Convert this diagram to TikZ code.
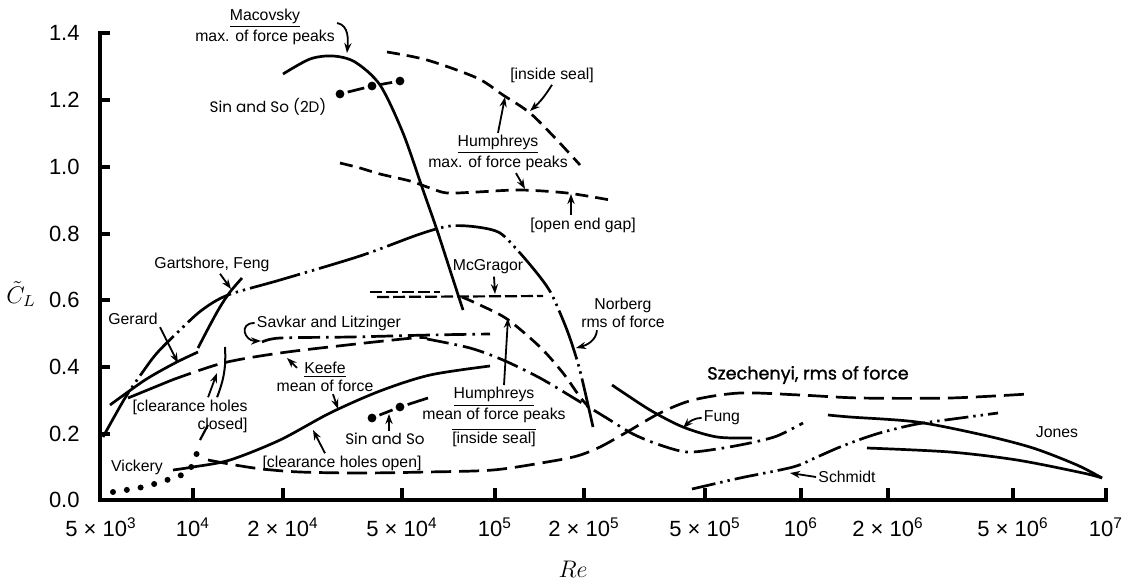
\documentclass[tikz,border=0pt]{standalone}
\usepackage{fontspec}
\setmainfont{Liberation Sans}
\newfontfamily\geofont{Poppins}
\newfontfamily\geobold[FakeBold=1.3]{Poppins}
\usetikzlibrary{arrows.meta}
\tikzset{>={Stealth[length=5pt,width=3.6pt]}}

\begin{document}
\begin{tikzpicture}[x=0.5pt, y=-0.5pt,
            axis/.style={line width=2.3pt},
            curve/.style={line width=1.35pt},
            dashc/.style={curve, dash pattern=on 6.5pt off 3.5pt},
            longdash/.style={curve, dash pattern=on 10pt off 4pt},
            mcgdash/.style={curve, line width=1.1pt, dash pattern=on 6pt off 2pt},
            dashdot/.style={curve, dash pattern=on 11pt off 3pt on 1.3pt off 3pt},
            dashdotdot/.style={curve, dash pattern=on 26pt off 2.5pt on 1.2pt off 2.5pt on 1.2pt off 2.5pt},
            schdash/.style={curve, dash pattern=on 12pt off 2.5pt on 1.2pt off 2.5pt on 1.2pt off 2.5pt},
            dots/.style={line width=3pt, line cap=round, dash pattern=on 0pt off 7pt},
            arr/.style={line width=0.9pt, ->},
            lbl/.style={font=\fontsize{7.9}{9}\selectfont, align=center, inner sep=1pt},
            geo/.style={font=\geofont\fontsize{7.6}{9}\selectfont, inner sep=1pt},
            ticklbl/.style={font=\fontsize{11}{13}\selectfont, inner sep=1pt}]
            \useasboundingbox (0,0) rectangle (1131,579);
            %% Axes
            \draw[axis] (110,33) -- (100,33) -- (100,500) -- (1106,500) -- (1106,488);
            \foreach \y in {100,167,234,300,367,434} \draw[axis] (100,\y) -- (110,\y);
            \foreach \x in {193,283,402,495,584,705,801,888,1013} \draw[axis] (\x,500) -- (\x,488);
            \foreach \y/\v [count=\i] in {33/1.4,100/1.2,167/1.0,234/0.8,300/0.6,367/0.4,434/0.2,500/0.0}
                \node[ticklbl, anchor=east] (ytick\i) at (82,\y) {\v};
            \foreach \x/\t [count=\i] in {101/5 × 10\textsuperscript{3},193/10\textsuperscript{4},283/2 × 10\textsuperscript{4},
                402/5 × 10\textsuperscript{4},495/10\textsuperscript{5},584/2 × 10\textsuperscript{5},705/5 × 10\textsuperscript{5},
                801/10\textsuperscript{6},888/2 × 10\textsuperscript{6},1013/5 × 10\textsuperscript{6},1106/10\textsuperscript{7}}
                \node[ticklbl] (xtick\i) at (\x,527) {\t};
            \node[font=\fontsize{12}{14}\selectfont, inner sep=0pt] (clLbl) at (21,294) {$\tilde{C}_L$};
            \node[font=\fontsize{12.5}{15}\selectfont] (reLbl) at (573,569) {$Re$};
            %% Curves, upper group
            \draw[curve] plot[smooth] coordinates {(283,74) (310,59) (333,56) (355,62) (380,85) (403,133) (423,190) (437,230) (450,270) (463,310)};
            \draw[dashc] plot[smooth] coordinates {(387,52) (427,60) (477,78) (503,95) (530,113) (557,140) (580,165)};
            \draw[dashc] plot[smooth] coordinates {(340,163) (360,168) (380,174) (410,181) (430,188) (447,193) (477,192) (520,190) (567,193) (610,200)};
            \draw[curve, shorten <=4pt, shorten >=4pt] (340,94) -- (372,86);
            \draw[curve, shorten <=4pt, shorten >=4pt] (372,86) -- (400,81);
            \foreach \p in {(340,94),(372,86),(400,81)} \fill \p circle (2.2pt);
            %% Curves, middle group
            \draw[dashdotdot] plot[smooth] coordinates {(103,437) (125,398) (142,373) (157,353) (180,330) (202,310) (228,295) (280,280) (360,256) (420,234) (450,226) (477,227) (500,233) (520,253) (540,277) (552,295) (567,330) (577,360) (583,383) (593,427)};
            \draw[curve] plot[smooth] coordinates {(110,405) (145,380) (175,363) (198,352)};
            \draw[curve] plot[smooth] coordinates {(198,348) (210,325) (220,307) (230,292) (242,278)};
            \draw[mcgdash] (370,292) -- (440,292);
            \draw[mcgdash] (377,297) -- (543,296);
            \draw[dashc] plot[smooth] coordinates {(462,297) (480,305) (507,319) (540,347) (563,373) (580,397) (588,406)};
            \draw[dashdot] plot[smooth] coordinates {(262,342) (280,338) (350,337) (430,335) (490,334)};
            \draw[curve] (128,398) -- (172,380);
            \draw[longdash] plot[smooth] coordinates {(172,380) (223,363) (280,353) (347,345) (413,338) (427,338)};
            \draw[dashdot] plot[smooth] coordinates {(427,339) (470,348) (503,360) (540,378) (577,400) (605,417) (633,434) (660,445) (687,452) (717,449) (750,443) (777,436) (803,423)};
            %% Curves, lower group
            \draw[curve] plot[smooth] coordinates {(173,470) (193,467) (230,460) (280,440) (330,413) (380,391) (430,375) (490,366)};
            \draw[dots] plot[smooth] coordinates {(113,492) (143,487) (170,479) (188,472) (193,462) (197,453)};
            \draw[curve, line width=1.1pt] (200,440) -- (208,425);
            \draw[longdash] plot[smooth] coordinates {(208,460) (235,465) (262,469) (300,472) (360,473) (427,472) (493,470) (547,462) (577,456) (600,447) (627,432) (660,413) (693,400) (740,393) (800,395) (860,398) (950,398) (1028,394)};
            \draw[curve, shorten <=4pt, shorten >=4pt] (372,418) -- (400,407);
            \draw[curve, shorten <=4pt] (400,407) -- (428,398);
            \foreach \p in {(372,418),(400,407)} \fill \p circle (2.2pt);
            %% Curves, high Re
            \draw[curve] plot[smooth] coordinates {(612,385) (650,410) (683,427) (717,437) (752,438)};
            \draw[schdash] plot[smooth] coordinates {(692,489) (705,486) (740,478) (793,467) (817,457) (840,447) (867,437) (887,431) (917,424) (953,419) (998,413)};
            \draw[curve] plot[smooth] coordinates {(828,415) (850,417) (917,422) (983,435) (1033,448) (1077,465) (1102,478)};
            \draw[curve] plot[smooth] coordinates {(867,448) (950,452) (1017,460) (1083,473) (1102,478)};
            %% Labels
            \node[lbl] (macLbl) at (265,27) {\underline{Macovsky}\\max. of force peaks};
            \node[geo] (sin2Lbl) at (268,107) {Sin and So (2D)};
            \node[lbl] (sealLbl) at (552,75) {[inside seal]};
            \node[lbl] (hmaxLbl) at (498,153) {\underline{Humphreys}\\max. of force peaks};
            \node[lbl] (gapLbl) at (583,225) {[open end gap]};
            \node[lbl] (garLbl) at (212,264) {Gartshore, Feng};
            \node[lbl] (mcgLbl) at (488,267) {McGragor};
            \node[lbl] (norLbl) at (623,313) {Norberg\\rms of force};
            \node[lbl] (gerLbl) at (133,319) {Gerard};
            \node[lbl] (savLbl) at (329,323) {Savkar and Litzinger};
            \node[lbl] (keeLbl) at (325,377) {\underline{Keefe}\\mean of force};
            \node[lbl, align=right, anchor=east] (cclLbl) at (250,416) {[clearance holes\\closed]};
            \node[lbl] (hmeLbl) at (494,417) {\underline{Humphreys}\\mean of force peaks\\[1.5pt]$\overline{\mbox{[inside seal]}}$};
            \node[lbl] (vicLbl) at (137,467) {Vickery};
            \node[lbl] (cloLbl) at (342,463) {[clearance holes open]};
            \node[geo] (sinLbl) at (385,439) {Sin and So};
            \node[lbl] (fungLbl) at (722,418) {Fung};
            \node[geo, font=\geobold\fontsize{8.8}{10}\selectfont] (szeLbl) at (808,375) {Szechenyi, rms of force};
            \node[lbl] (schLbl) at (847,477) {Schmidt};
            \node[lbl] (jonLbl) at (1057,432) {Jones};
            %% Pointers
            \coordinate (macTip) at (347,53);
            \draw[arr] ([yshift=2pt]macLbl.east) to[out=-10, in=85] (macTip);
            \coordinate (sealTip) at (530,111);
            \draw[arr] (sealLbl.south) to[bend left=8] (sealTip);
            \coordinate (hmaxTipA) at (505,97);
            \draw[arr] (hmaxLbl.north) -- (hmaxTipA);
            \coordinate (hmaxTipB) at (525,189);
            \draw[arr] ([xshift=9pt]hmaxLbl.south) -- (hmaxTipB);
            \coordinate (gapTip) at (571,194);
            \draw[arr] ([xshift=-6pt]gapLbl.north) -- (gapTip);
            \coordinate (garTip) at (231,289);
            \draw[arr] ([xshift=4pt]garLbl.south) -- (garTip);
            \coordinate (mcgTip) at (495,294);
            \draw[arr] ([xshift=3pt]mcgLbl.south) -- (mcgTip);
            \coordinate (norTip) at (576,348);
            \draw[arr] ([xshift=-13pt]norLbl.south) to[out=-95, in=15] (norTip);
            \coordinate (gerTip) at (178,363);
            \draw[arr] (gerLbl.south east) -- (gerTip);
            \coordinate (savTip) at (261,341);
            \draw[arr] (savLbl.west) to[out=180, in=180, looseness=2.2] (savTip);
            \coordinate (keeTipA) at (287,358);
            \draw[arr] ([xshift=-14pt,yshift=-4pt]keeLbl.north) -- (keeTipA);
            \coordinate (keeTipB) at (338,409);
            \draw[arr] ([xshift=4pt]keeLbl.south) -- (keeTipB);
            \coordinate (cclTipA) at (217,373);
            \draw[arr] ([xshift=9pt]cclLbl.north) -- (cclTipA);
            \coordinate (cclTop) at (225,347);
            \draw[line width=1pt] ([xshift=13.5pt]cclLbl.north) to[bend right=12] (cclTop);
            \coordinate (cloTip) at (313,430);
            \draw[arr] ([xshift=-8.5pt]cloLbl.north) -- (cloTip);
            \coordinate (sinTip) at (389,414);
            \draw[arr] ([xshift=2pt]sinLbl.north) -- (sinTip);
            \coordinate (hmeTip) at (508,318);
            \draw[arr] ([xshift=5pt]hmeLbl.north) -- (hmeTip);
            \coordinate (fungTip) at (683,428);
            \draw[arr] (fungLbl.west) to[out=180, in=45] (fungTip);
            \coordinate (schTip) at (790,473);
            \draw[arr] (schLbl.west) -- (schTip);
        \end{tikzpicture}
\end{document}
